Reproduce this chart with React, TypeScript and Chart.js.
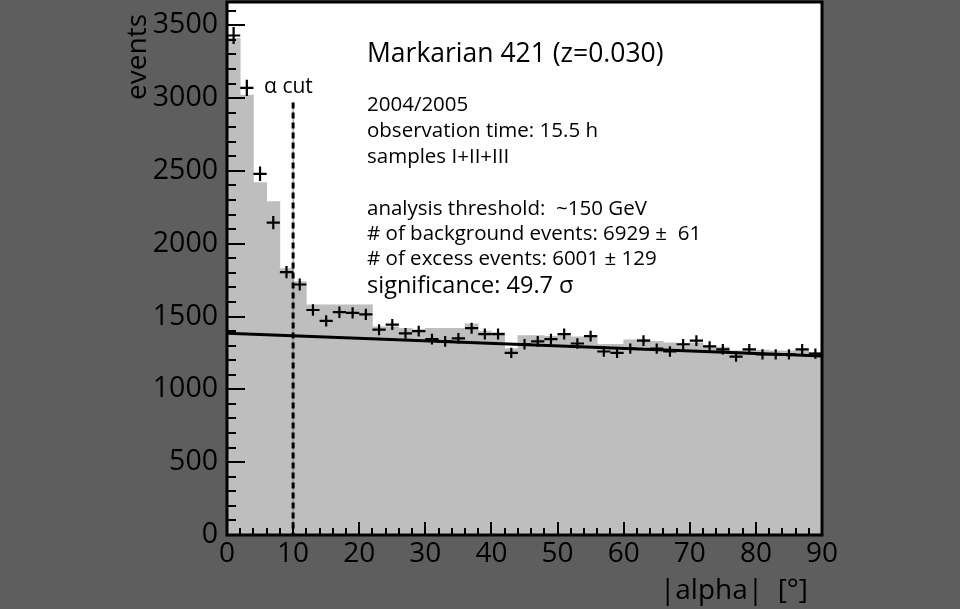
import React, { useEffect, useRef } from "react";
import { Chart, registerables } from "chart.js";

Chart.register(...registerables);

// |alpha| bin centres (2 degree bins)
const binCenters = [1, 3, 5, 7, 9, 11, 13, 15, 17, 19, 21, 23, 25, 27, 29, 31, 33, 35, 37, 39, 41, 43, 45, 47, 49, 51, 53, 55, 57, 59, 61, 63, 65, 67, 69, 71, 73, 75, 77, 79, 81, 83, 85, 87, 89];
const binHalfWidth = 1;

// ON events (crosses)
const onEvents = [3430, 3070, 2480, 2145, 1805, 1720, 1545, 1470, 1530, 1525, 1515, 1410, 1445, 1385, 1400, 1345, 1330, 1350, 1420, 1380, 1380, 1250, 1310, 1330, 1345, 1380, 1315, 1365, 1260, 1250, 1280, 1335, 1280, 1260, 1310, 1335, 1295, 1275, 1225, 1275, 1240, 1240, 1240, 1275, 1245];

// grey histogram
const histEvents = [3410, 3020, 2420, 2290, 1830, 1740, 1580, 1580, 1580, 1580, 1580, 1430, 1430, 1420, 1410, 1420, 1420, 1420, 1450, 1400, 1390, 1280, 1370, 1370, 1365, 1370, 1360, 1360, 1310, 1310, 1340, 1345, 1330, 1320, 1315, 1320, 1300, 1290, 1265, 1280, 1270, 1265, 1265, 1270, 1255];

// background fit (straight line)
const fitAlpha = [0, 90];
const fitEvents = [1385, 1230];

// alpha cut
const cutAlpha = 10;
const cutTopEvents = 2970;
const cutLabel = "\u03b1 cut";

// tick labels
const xTickValues = [0, 10, 20, 30, 40, 50, 60, 70, 80, 90];
const yTickValues = [0, 500, 1000, 1500, 2000, 2500, 3000, 3500];

const titleText = "Markarian 421 (z=0.030)";
const infoLines = [
  "2004/2005",
  "observation time: 15.5 h",
  "samples I+II+III",
  "analysis threshold:  ~150 GeV",
  "# of background events: 6929 \u00b1  61",
  "# of excess events: 6001 \u00b1 129",
];
const significanceText = "significance: 49.7 \u03c3";
const yAxisTitle = "events";
const xAxisTitle = "|alpha|  [\u00b0]";

const xMax = 90;
const yMax = 3660;
const xMajor = 10;
const xMinor = 2;
const yMajor = 500;
const yMinor = 100;

const FONT = '"Open Sans", "Noto Sans", sans-serif';

const decorPlugin = {
  id: "decor",
  beforeDraw(chart: any) {
    const { ctx, chartArea: a } = chart;
    ctx.save();
    ctx.fillStyle = "#ffffff";
    ctx.fillRect(a.left, a.top, a.right - a.left, a.bottom - a.top);
    ctx.restore();
  },
  afterDatasetsDraw(chart: any) {
    const { ctx, chartArea: a, scales } = chart;
    const x = scales.x;
    const y = scales.y;
    ctx.save();

    // alpha cut line
    const cx = x.getPixelForValue(cutAlpha);
    const cTop = y.getPixelForValue(cutTopEvents);
    ctx.strokeStyle = "#808080";
    ctx.lineWidth = 1;
    ctx.beginPath();
    ctx.moveTo(cx, cTop);
    ctx.lineTo(cx, a.bottom);
    ctx.stroke();
    ctx.strokeStyle = "#000";
    ctx.lineWidth = 3;
    ctx.setLineDash([6, 4]);
    ctx.beginPath();
    ctx.moveTo(cx, cTop);
    ctx.lineTo(cx, a.bottom);
    ctx.stroke();
    ctx.setLineDash([]);

    // crosses with error bars
    ctx.strokeStyle = "#000";
    ctx.lineWidth = 2.2;
    binCenters.forEach((c, i) => {
      const v = onEvents[i];
      const e = Math.sqrt(v);
      const px = x.getPixelForValue(c);
      const py = y.getPixelForValue(v);
      ctx.beginPath();
      ctx.moveTo(x.getPixelForValue(c - binHalfWidth), py);
      ctx.lineTo(x.getPixelForValue(c + binHalfWidth), py);
      ctx.moveTo(px, y.getPixelForValue(v + e));
      ctx.lineTo(px, y.getPixelForValue(v - e));
      ctx.stroke();
    });

    // inward ticks
    ctx.lineWidth = 2;
    ctx.beginPath();
    for (let v = 0; v <= xMax + 1e-6; v += xMinor) {
      const px = Math.round(x.getPixelForValue(v));
      const len = v % xMajor === 0 ? 13 : 7;
      ctx.moveTo(px, a.bottom);
      ctx.lineTo(px, a.bottom - len);
    }
    for (let v = 0; v <= yMax; v += yMinor) {
      const py = Math.round(y.getPixelForValue(v));
      const len = v % yMajor === 0 ? 18 : 9;
      ctx.moveTo(a.left, py);
      ctx.lineTo(a.left + len, py);
    }
    ctx.stroke();

    // frame
    ctx.lineWidth = 3;
    ctx.strokeRect(a.left, a.top, a.right - a.left, a.bottom - a.top);

    // alpha cut label
    ctx.font = `21px ${FONT}`;
    const lw = ctx.measureText(cutLabel).width;
    ctx.fillStyle = "#fff";
    ctx.fillRect(cx - 31, 75, lw + 9, 24);
    ctx.fillStyle = "#000";
    ctx.textAlign = "left";
    ctx.textBaseline = "alphabetic";
    ctx.fillText(cutLabel, cx - 29, 93);

    // title & info
    ctx.font = `26.5px ${FONT}`;
    ctx.fillText(titleText, 367, 62);
    ctx.font = `20.5px ${FONT}`;
    const bases = [111, 137, 163, 215, 240, 265];
    infoLines.forEach((t, i) => ctx.fillText(t, 367, bases[i]));
    ctx.font = `23.5px ${FONT}`;
    ctx.fillText(significanceText, 367, 293);

    // axis titles
    ctx.font = `28px ${FONT}`;
    ctx.textAlign = "right";
    ctx.fillText(xAxisTitle, 808, 599);
    ctx.save();
    ctx.translate(146, 14);
    ctx.rotate(-Math.PI / 2);
    ctx.textAlign = "right";
    ctx.fillText(yAxisTitle, 0, 0);
    ctx.restore();

    ctx.restore();
  },
};

export default function App() {
  const ref = useRef<HTMLCanvasElement | null>(null);
  useEffect(() => {
    if (!ref.current) return;
    const chart = new Chart(ref.current, {
      type: "bar",
      data: {
        datasets: [
          {
            type: "line",
            data: fitAlpha.map((a, i) => ({ x: a, y: fitEvents[i] })),
            borderColor: "#000",
            borderWidth: 3,
            pointRadius: 0,
            order: 1,
          } as any,
          {
            type: "bar",
            data: binCenters.map((c, i) => ({ x: c, y: histEvents[i] })),
            backgroundColor: "#bebebe",
            borderWidth: 0,
            barPercentage: 1,
            categoryPercentage: 1,
            order: 2,
          },
        ],
      },
      options: {
        responsive: false,
        animation: false,
        events: [],
        layout: { padding: { top: 2, right: 138, left: 0, bottom: 0 } },
        plugins: { legend: { display: false }, tooltip: { enabled: false } },
        scales: {
          x: {
            type: "linear",
            min: 0,
            max: xMax,
            offset: false,
            grid: { display: false, drawTicks: false },
            border: { display: false },
            afterBuildTicks(scale: any) {
              scale.ticks = xTickValues.map((v) => ({ value: v }));
            },
            ticks: {
              padding: 2,
              color: "#000",
              font: { family: FONT, size: 28 },
              maxRotation: 0,
              autoSkip: false,
              callback: (v: any) => String(v),
            },
            afterFit(scale: any) {
              scale.height = 74;
              scale.paddingLeft = 0;
              scale.paddingRight = 0;
            },
          },
          y: {
            type: "linear",
            min: 0,
            max: yMax,
            grid: { display: false, drawTicks: false },
            border: { display: false },
            afterBuildTicks(scale: any) {
              scale.ticks = yTickValues.map((v) => ({ value: v }));
            },
            ticks: {
              padding: 9,
              color: "#000",
              autoSkip: false,
              font: { family: FONT, size: 28.5 },
              callback: (v: any) => String(v),
            },
            afterFit(scale: any) {
              scale.width = 227;
              scale.paddingTop = 0;
              scale.paddingBottom = 0;
            },
          },
        },
      },
      plugins: [decorPlugin],
    });
    return () => chart.destroy();
  }, []);
  return (
    <div style={{ position: "absolute", left: 0, top: 0, width: 960, height: 609, background: "#5e5e5e" }}>
      <canvas ref={ref} width={960} height={609} />
    </div>
  );
}
